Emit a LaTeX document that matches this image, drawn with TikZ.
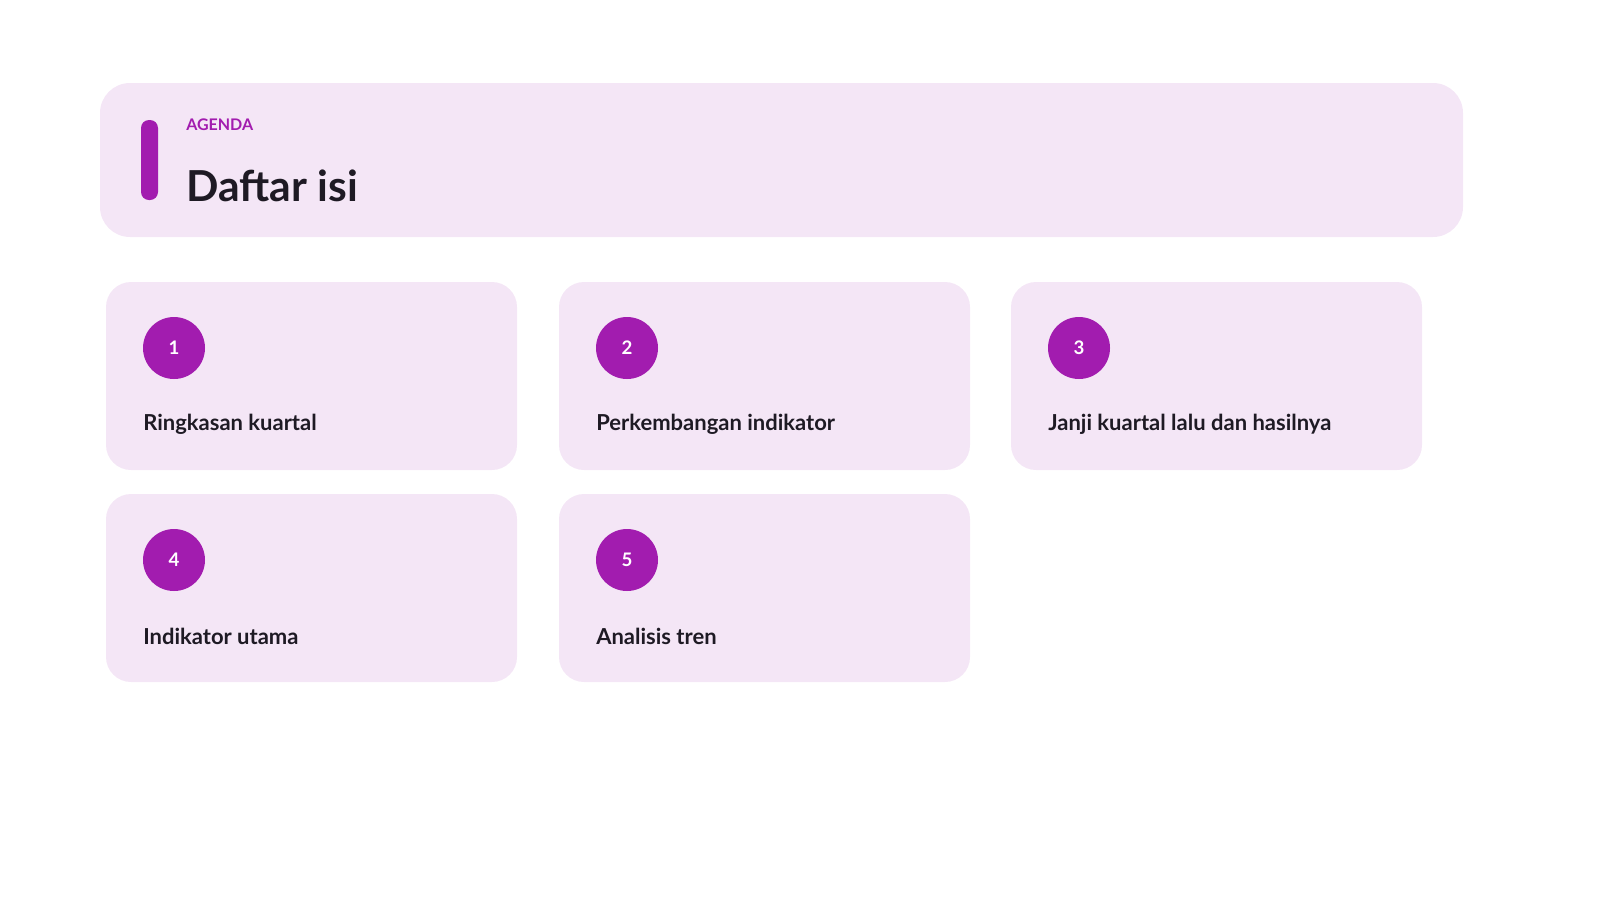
\documentclass[tikz,border=0pt]{standalone}
\usepackage{fontspec}
\setmainfont{Lato}
\usetikzlibrary{positioning}
\definecolor{cardbg}{HTML}{F4E6F6}
\definecolor{accent}{HTML}{A21CAF}
\definecolor{ink}{HTML}{1E1A24}
\tikzset{
  card/.style={fill=cardbg,draw=none,rounded corners=25*0.75pt},
  badge/.style={circle,fill=accent,minimum size=62*0.75pt,inner sep=0pt,text=white,font=\bfseries\fontsize{14}{16}\selectfont},
  item/.style={anchor=west,inner sep=0pt,text=ink,font=\bfseries\fontsize{16.5}{19}\selectfont}
}
\begin{document}
\begin{tikzpicture}[x=0.75pt,y=-0.75pt]
  \useasboundingbox (0,0) rectangle (1598,900);
  % header
  \fill[cardbg,rounded corners=30*0.75pt] (100,83) rectangle (1463,237);
  \fill[accent,rounded corners=8*0.75pt] (141,120) rectangle (158,200);
  \node[anchor=west,inner sep=0pt,text=accent,font=\bfseries\fontsize{12}{14}\selectfont] (tag) at (186,125) {AGENDA};
  \node[anchor=base west,inner sep=0pt,text=ink,font=\bfseries\fontsize{32}{38}\selectfont] (title) at (186,201) {Daftar isi};
  % cards
  \foreach \n/\x/\y/\t in {1/106/282/Ringkasan kuartal,2/559/282/Perkembangan indikator,3/1011/282/Janji kuartal lalu dan hasilnya,4/106/494/Indikator utama,5/559/494/Analisis tren}{
    \fill[card] (\x,\y) rectangle ++(411,188);
    \node[badge] (b\n) at (\x+68,\y+66) {\n};
    \node[item] (t\n) at (\x+37,\y+142) {\t};
  }
\end{tikzpicture}
\end{document}
